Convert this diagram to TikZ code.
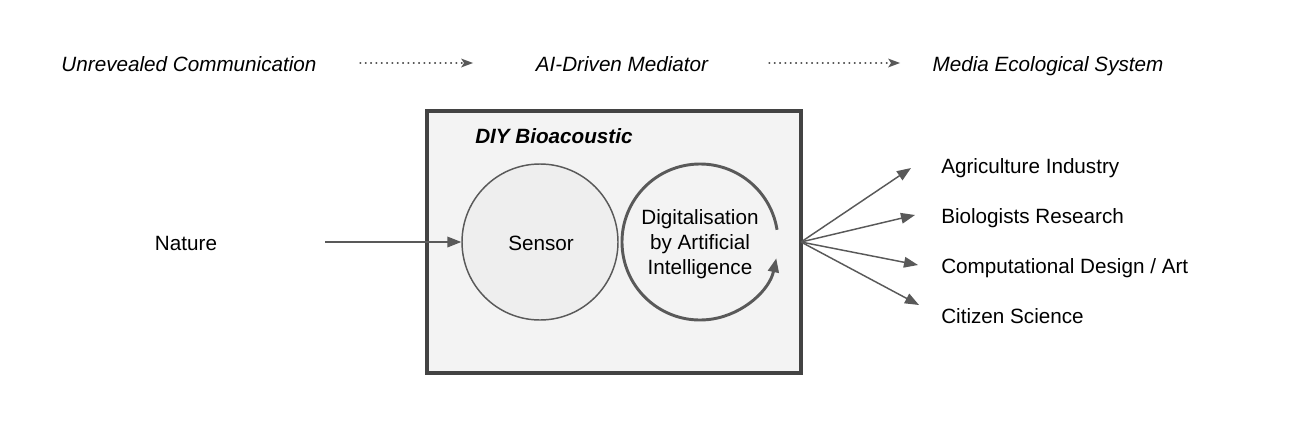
\documentclass[tikz,border=0pt]{standalone}
\usepackage{fontspec}
\setmainfont{Liberation Sans}
\usetikzlibrary{arrows.meta}
\definecolor{linegray}{HTML}{595959}
\definecolor{boxedge}{HTML}{434343}
\definecolor{boxfill}{HTML}{F3F3F3}
\definecolor{sensfill}{HTML}{EEEEEE}
\tikzset{
  lbl/.style={font=\fontsize{15.5}{18.75}\selectfont, inner sep=0pt},
  toplbl/.style={font=\fontsize{15.5}{18.75}\selectfont\itshape, inner sep=0pt, anchor=base},
  fanarrow/.style={draw=linegray, line width=1.1pt, -{Triangle[length=10.5pt,width=8pt]}},
  dotline/.style={draw=linegray, line width=0.9pt, dash pattern=on 0.6pt off 3.4pt, line cap=round},
  dothead/.style={draw=none, fill=linegray},
}
\begin{document}
\begin{tikzpicture}[x=0.75pt,y=0.75pt]
\useasboundingbox (0,0) rectangle (1289,430);
% top row
\node[toplbl] (t1) at (189,358.6) {Unrevealed Communication};
\node[toplbl] (t2) at (622,358.6) {AI-Driven Mediator};
\node[toplbl] (t3) at (1048,358.6) {Media Ecological System};
\coordinate (d1s) at (360,367);
\coordinate (d1e) at (473,367);
\coordinate (d2s) at (769,367);
\coordinate (d2e) at (900,367);
\draw[dotline] (d1s) -- ([xshift=-7pt]d1e);
\draw[dotline] (d2s) -- ([xshift=-7pt]d2e);
\draw[dothead] (d1e) -- ++(-12,4.5) -- ++(3,-4.5) -- ++(-3,-4.5) -- cycle;
\draw[dothead] (d2e) -- ++(-12,4.5) -- ++(3,-4.5) -- ++(-3,-4.5) -- cycle;
% box
\node[draw=boxedge, fill=boxfill, line width=3pt, minimum width=280.5pt, minimum height=196.5pt, inner sep=0pt] (box) at (614,188) {};
\node[font=\fontsize{15.5}{18.75}\selectfont\bfseries\itshape, anchor=base west, inner sep=0pt] (diy) at (475,286.6) {DIY Bioacoustic};
% circles
\node[circle, draw=linegray, fill=sensfill, line width=1.1pt, minimum size=117pt, inner sep=0pt, lbl] (sensor) at (540,188) {};
\node[lbl, anchor=base] (sensortxt) at (541,179.6) {Sensor};
\node[lbl, align=center] (ai) at (700,186) {Digitalisation\\by Artificial\\Intelligence};
\draw[draw=linegray, line width=2.2pt, -{Triangle[length=10.5pt,width=8pt]}] (700,188) ++(9:58.5pt) arc[start angle=9, end angle=348, radius=58.5pt];
% nature
\node[lbl, anchor=base] (nature) at (186,179.6) {Nature};
\coordinate (natout) at (325,188);
\draw[draw=linegray, line width=1.1pt, -{Triangle[length=10.5pt,width=8pt]}] (natout) -- (sensor.west);
% fan
\coordinate (fan) at (801,188);
\coordinate (e1) at (911,262);
\coordinate (e2) at (915,215);
\coordinate (e3) at (918,165);
\coordinate (e4) at (919,125);
\draw[fanarrow] (fan) -- (e1);
\draw[fanarrow] (fan) -- (e2);
\draw[fanarrow] (fan) -- (e3);
\draw[fanarrow] (fan) -- (e4);
\node[lbl, anchor=base west] (o1) at (941,256.6) {Agriculture Industry};
\node[lbl, anchor=base west] (o2) at (941,206.6) {Biologists Research};
\node[lbl, anchor=base west] (o3) at (941,156.6) {Computational Design / Art};
\node[lbl, anchor=base west] (o4) at (941,106.6) {Citizen Science};
\end{tikzpicture}
\end{document}
